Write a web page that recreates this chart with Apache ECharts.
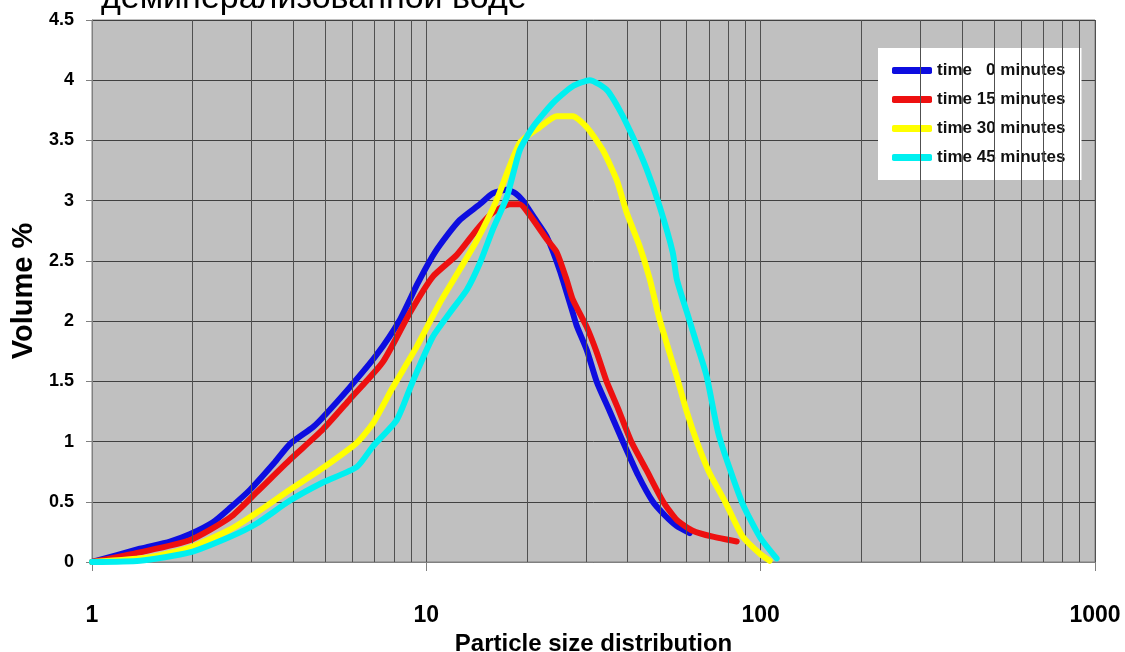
<!DOCTYPE html>
<html lang="ru">
<head>
    <meta charset="UTF-8">
    <title>Particle size distribution</title>
    <script src="https://cdn.jsdelivr.net/npm/echarts@6/dist/echarts.min.js"></script>
    <style>
        html, body { margin: 0; padding: 0; background: #fff; }
        #chart { width: 1125px; height: 652px; }
    </style>
</head>
<body>
    <div id="chart"></div>
<script>
    // значения: [размер частиц, объём %]
    var t0 = [[1,0],[1.39,0.11],[1.71,0.17],[1.96,0.23],[2.3,0.33],[2.59,0.45],[2.97,0.6],[3.5,0.82],[3.91,0.98],
        [4.58,1.12],[4.9,1.2],[5.9,1.45],[7.1,1.72],[8.33,2.01],[9.37,2.3],[10.24,2.5],[10.97,2.63],[12.6,2.84],
        [14.45,2.97],[15.8,3.06],[17.41,3.09],[18.5,3.06],[19.43,3.0],[21,2.86],[22.92,2.7],[25.07,2.42],
        [27.41,2.07],[28.18,1.96],[30.19,1.76],[32.3,1.5],[35.38,1.25],[38.7,1.0],[43,0.72],[47.6,0.5],
        [52,0.38],[56,0.3],[61.33,0.24]];
    var t15 = [[1,0],[1.39,0.08],[1.96,0.18],[2.59,0.37],[3.11,0.58],[3.91,0.85],[4.9,1.1],[5.9,1.35],[7.41,1.66],
        [8.93,2.07],[10.46,2.37],[12.34,2.55],[14.16,2.76],[15.8,2.9],[17.77,2.97],[19.03,2.97],[20.39,2.88],
        [22.92,2.68],[24.56,2.57],[26.3,2.34],[27.41,2.18],[30.19,1.95],[32.34,1.74],[34.6,1.5],[37.5,1.27],
        [41,1.0],[45.6,0.76],[51.1,0.5],[56.1,0.35],[62.62,0.26],[71.88,0.21],[84.8,0.17]];
    var t30 = [[1,0],[1.49,0.04],[1.96,0.12],[2.59,0.27],[3.11,0.41],[3.91,0.6],[4.9,0.78],[6.2,0.99],[6.92,1.15],
        [7.94,1.45],[9.37,1.79],[10.97,2.15],[12.6,2.43],[14.16,2.67],[16.2,3.0],[19.03,3.48],[21.84,3.61],
        [24.56,3.7],[27.41,3.7],[30.19,3.61],[33.71,3.42],[37.12,3.17],[39.76,2.9],[43.48,2.62],[46.58,2.35],
        [49.9,2.01],[56.1,1.54],[60.07,1.25],[64.4,1.0],[70,0.75],[78.3,0.5],[88.37,0.21],[99.31,0.07],[106.4,0.01]];
    var t45 = [[1,0],[1.39,0.01],[1.96,0.08],[2.59,0.21],[3.11,0.32],[3.91,0.51],[4.9,0.66],[6.2,0.79],[6.92,0.96],
        [8.16,1.18],[9.11,1.5],[10.46,1.87],[11.76,2.07],[13.22,2.26],[14.45,2.48],[15.8,2.76],[17.41,3.03],
        [19.03,3.42],[20.82,3.61],[23.89,3.81],[27.41,3.95],[30.82,4.0],[34.65,3.92],[37.89,3.75],[41.44,3.53],
        [45.63,3.26],[49.9,2.95],[54.58,2.57],[56.1,2.35],[60.07,2.08],[64.38,1.81],[68.97,1.54],[75,1.05],
        [87.8,0.5],[99.31,0.21],[111.6,0.03]];

    var seriesNames = ['time   0 minutes', 'time 15 minutes', 'time 30 minutes', 'time 45 minutes'];
    var seriesColors = ['#0d0de0', '#ee1010', '#ffff00', '#00f0f0'];
    // промежуточные деления логарифмической шкалы
    var minorLines = [2,3,4,5,6,7,8,9,20,30,40,50,60,70,80,90,200,300,400,500,600,700,800,900];

    var myChart = echarts.init(document.getElementById('chart'));

    var series = [{
        name: 'grid',
        type: 'line',
        data: [[1, 0]],
        showSymbol: false,
        lineStyle: { opacity: 0 },
        silent: true,
        z: 1,
        markLine: {
            silent: true,
            symbol: ['none', 'none'],
            label: { show: false },
            lineStyle: { color: '#505050', width: 1, type: 'solid' },
            data: minorLines.map(function (v) { return { xAxis: v }; })
        }
    }];
    [t0, t15, t30, t45].forEach(function (d, i) {
        series.push({
            name: seriesNames[i],
            type: 'line',
            data: d,
            smooth: 0.2,
            showSymbol: false,
            z: 3 + i,
            lineStyle: { width: 6, color: seriesColors[i], cap: 'round' },
            itemStyle: { color: seriesColors[i] }
        });
    });

    myChart.setOption({
        animation: false,
        textStyle: { fontFamily: 'Liberation Sans' },
        title: {
            text: 'деминерализованной воде',
            left: 96,
            top: -23,
            textStyle: { fontSize: 34, fontWeight: 'normal', color: '#000' }
        },
        legend: {
            data: seriesNames,
            orient: 'vertical',
            left: 878,
            top: 48,
            padding: [14, 16, 14, 14],
            backgroundColor: '#fff',
            icon: 'roundRect',
            itemWidth: 40,
            itemHeight: 7,
            itemGap: 12,
            textStyle: { fontSize: 17, fontWeight: 'bold', color: '#111' }
        },
        grid: {
            left: 92, right: 30, top: 20, bottom: 90,
            outerBoundsMode: 'none',
            show: true,
            backgroundColor: '#c0c0c0',
            borderColor: '#808080',
            borderWidth: 1
        },
        xAxis: {
            type: 'log',
            logBase: 10,
            min: 1,
            max: 1000,
            name: 'Particle size distribution',
            nameLocation: 'middle',
            nameGap: 60,
            nameTextStyle: { fontSize: 24, fontWeight: 'bold', color: '#000' },
            axisLine: { lineStyle: { color: '#808080', width: 1 } },
            axisTick: { show: true, length: 9, lineStyle: { color: '#808080' } },
            axisLabel: {
                margin: 42,
                fontSize: 23,
                fontWeight: 'bold',
                color: '#000',
                formatter: function (v) { return String(Math.round(v)); }
            },
            splitLine: { show: true, lineStyle: { color: '#505050', width: 1 } }
        },
        yAxis: {
            type: 'value',
            min: 0,
            max: 4.5,
            interval: 0.5,
            name: 'Volume %',
            nameLocation: 'middle',
            nameGap: 45,
            nameTextStyle: { fontSize: 29, fontWeight: 'bold', color: '#000' },
            axisLine: { show: true, lineStyle: { color: '#808080', width: 1 } },
            axisTick: { show: true, length: 6, lineStyle: { color: '#808080' } },
            axisLabel: { margin: 18, fontSize: 18, fontWeight: 'bold', color: '#000' },
            splitLine: { show: true, lineStyle: { color: '#404040', width: 1 } }
        },
        series: series
    });
</script>
</body>
</html>
